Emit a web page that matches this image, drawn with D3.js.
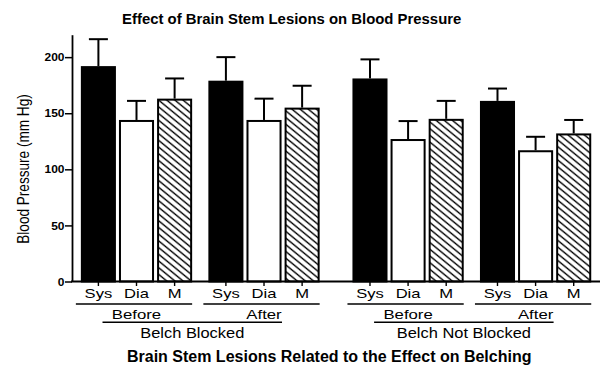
<!DOCTYPE html>
<html><head><meta charset="utf-8">
<script src="https://cdn.jsdelivr.net/npm/d3@7"></script>
<style>
html,body{margin:0;padding:0;background:#fff;}
svg{display:block;}
text{font-family:"Liberation Sans", Arial, Helvetica, sans-serif; fill:#000;}
</style></head><body>
<svg id="chart" width="602" height="367"></svg>
<script>
// Grouping levels
const conditions = ["Belch Blocked", "Belch Not Blocked"];
const phases = ["Before", "After"];
const measures = ["Sys", "Dia", "M"];

// Mean blood pressure (mm Hg), ordered Sys, Dia, M
const blockedBefore = [192, 144, 163];
const blockedAfter = [179, 144, 155];
const notBlockedBefore = [181, 127, 145];
const notBlockedAfter = [161, 117, 132];

// Upper error (mm Hg), same order
const blockedBeforeErr = [24, 17, 18];
const blockedAfterErr = [21, 19, 19.5];
const notBlockedBeforeErr = [17, 16, 16];
const notBlockedAfterErr = [11, 12, 12];

const yTicks = [0, 50, 100, 150, 200];

const title = "Effect of Brain Stem Lesions on Blood Pressure";
const yTitle = "Blood Pressure (mm Hg)";
const xTitle = "Brain Stem Lesions Related to the Effect on Belching";

const meanTable = [[blockedBefore, blockedAfter], [notBlockedBefore, notBlockedAfter]];
const errTable = [[blockedBeforeErr, blockedAfterErr], [notBlockedBeforeErr, notBlockedAfterErr]];

const rows = [];
conditions.forEach((c, ci) => phases.forEach((p, pi) => measures.forEach((m, mi) => {
  rows.push({condition: c, phase: p, measure: m, value: meanTable[ci][pi][mi], err: errTable[ci][pi][mi]});
})));

const svg = d3.select("#chart");

// Scales
const y = d3.scaleLinear().domain([0, 220]).range([281.5, 34.7]);
const xOuter = d3.scaleBand().domain(conditions).range([72.75, 599.35]).paddingInner(0.061).paddingOuter(0);
const xMid = d3.scaleBand().domain(phases).range([0, xOuter.bandwidth()]).padding(0);
const xIn = d3.scaleBand().domain(measures).range([0, xMid.bandwidth()]).paddingInner(0.08).paddingOuter(0.213);
const barX = d => xOuter(d.condition) + xMid(d.phase) + xIn(d.measure);
const barC = d => barX(d) + xIn.bandwidth() / 2;

// Hatch pattern for the mean-pressure bars
const defs = svg.append("defs");
const pat = defs.append("pattern").attr("id", "hatch").attr("patternUnits", "userSpaceOnUse")
  .attr("width", 10).attr("height", 6.7).attr("patternTransform", "skewY(39.4)");
pat.append("rect").attr("width", 10).attr("height", 6.7).attr("fill", "#fff");
pat.append("line").attr("x1", -1).attr("x2", 11).attr("y1", 3.35).attr("y2", 3.35)
  .attr("stroke", "#000").attr("stroke-width", 1.8);

const fillFor = {Sys: "#000", Dia: "#fff", M: "url(#hatch)"};

// Text helper with horizontal stretch
function txt(parent, s, x, yy, size, opts = {}) {
  const sx = opts.sx || 1;
  const rot = opts.rotate ? ` rotate(${opts.rotate})` : "";
  return parent.append("text")
    .attr("transform", `translate(${x},${yy}) scale(${sx},1)${rot}`)
    .attr("text-anchor", opts.anchor || "middle")
    .style("font-size", size + "px")
    .style("font-weight", opts.bold ? "bold" : "normal")
    .text(s);
}

// Bars
svg.append("g").selectAll("rect").data(rows).join("rect")
  .attr("x", d => barX(d) + 1)
  .attr("width", xIn.bandwidth() - 2)
  .attr("y", d => y(d.value) + 1)
  .attr("height", d => y(0) - y(d.value) - 1)
  .attr("fill", d => fillFor[d.measure])
  .attr("stroke", "#000").attr("stroke-width", 2);

// Error bars (upper only)
const eb = svg.append("g").attr("stroke", "#000").attr("stroke-width", 2);
eb.selectAll("line.v").data(rows).join("line").attr("class", "v")
  .attr("x1", barC).attr("x2", barC)
  .attr("y1", d => y(d.value)).attr("y2", d => y(d.value + d.err));
eb.selectAll("line.c").data(rows).join("line").attr("class", "c")
  .attr("x1", d => barC(d) - 9.5).attr("x2", d => barC(d) + 9.5)
  .attr("y1", d => y(d.value + d.err)).attr("y2", d => y(d.value + d.err));

// Y axis
const yAxis = svg.append("g").attr("transform", "translate(72,0)")
  .call(d3.axisLeft(y).tickValues(yTicks).tickSize(7).tickSizeOuter(0));
yAxis.select(".domain").attr("stroke-width", 1.8);
yAxis.selectAll(".tick line").attr("stroke-width", 1.5);
yAxis.selectAll(".tick text").attr("x", null).attr("dy", null)
  .attr("transform", "translate(-7.5,3.6) scale(1.2,1)")
  .attr("text-anchor", "end")
  .style("font-family", '"Liberation Sans", Arial, sans-serif')
  .style("font-size", "10px").style("font-weight", "bold");

// X axis baseline and category ticks
svg.append("line").attr("x1", 71).attr("x2", 600).attr("y1", y(0)).attr("y2", y(0))
  .attr("stroke", "#000").attr("stroke-width", 1.8);
svg.append("g").selectAll("line").data(rows).join("line")
  .attr("x1", barC).attr("x2", barC).attr("y1", y(0)).attr("y2", y(0) + 4.5)
  .attr("stroke", "#000").attr("stroke-width", 1.4);

const lab = svg.append("g");
rows.forEach(d => txt(lab, d.measure, barC(d), 298, 13.6, {sx: 1.22}));

// Phase brackets
conditions.forEach(c => phases.forEach(p => {
  const x0 = xOuter(c) + xMid(p) + xIn(measures[0]);
  const x1 = xOuter(c) + xMid(p) + xIn(measures[2]) + xIn.bandwidth();
  lab.append("line").attr("x1", x0 - 5).attr("x2", x1).attr("y1", 304).attr("y2", 304)
    .attr("stroke", "#000").attr("stroke-width", 1.4);
  txt(lab, p, (x0 + x1) / 2, 319.3, 13.2, {sx: 1.27});
}));

// Condition brackets
conditions.forEach(c => {
  const cb = xOuter(c) + xMid("Before") + xMid.bandwidth() / 2;
  const ca = xOuter(c) + xMid("After") + xMid.bandwidth() / 2;
  const x0 = cb - 34, x1 = ca + 18;
  lab.append("line").attr("x1", x0).attr("x2", x1).attr("y1", 322.3).attr("y2", 322.3)
    .attr("stroke", "#000").attr("stroke-width", 1.4);
  txt(lab, c, (x0 + x1) / 2, 338.3, 13.8, {sx: 1.19});
});

// Titles
txt(svg, title, 291.7, 24, 14.9, {bold: true});
txt(svg, xTitle, 329.2, 361.6, 16, {bold: true});
txt(svg, yTitle, 28.5, 169, 13.6, {sx: 1.28, rotate: -90});
</script>
</body></html>
